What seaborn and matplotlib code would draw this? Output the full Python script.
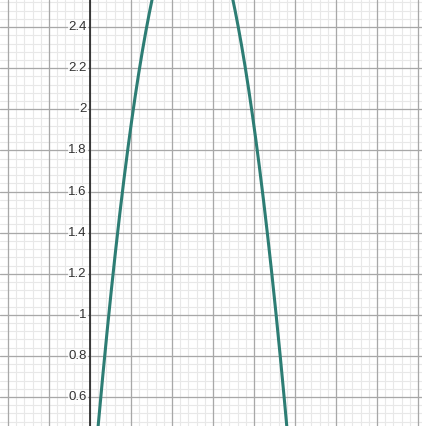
import numpy as np
import matplotlib.pyplot as plt
import seaborn as sns

# curve y = 12x - 12x^2 (coefficients)
coeffs = [-12.0, 12.0, 0.0]
y_ticks = [0.6, 0.8, 1.0, 1.2, 1.4, 1.6, 1.8, 2.0, 2.2, 2.4]
y_labels = ["0.6", "0.8", "1", "1.2", "1.4", "1.6", "1.8", "2", "2.2", "2.4"]

xmin, xmax = -0.439, 1.620
ymin, ymax = 0.459, 2.532

xs = np.linspace(xmin, xmax, 600)
ys = np.polyval(coeffs, xs)

sns.set_style("white")
plt.rcParams['font.family'] = ['Liberation Sans', 'DejaVu Sans']
fig = plt.figure(figsize=(4.22, 4.26), dpi=100)
ax = fig.add_axes([0, 0, 1, 1])

# grid: minor every 0.04, major every 0.2
for v in np.arange(-0.4, 1.7, 0.04):
    ax.axvline(v, color="#e8e8e8", lw=0.8, zorder=0)
for v in np.arange(0.44, 2.6, 0.04):
    ax.axhline(v, color="#e8e8e8", lw=0.8, zorder=0)
for v in np.arange(-0.4, 1.7, 0.2):
    ax.axvline(v, color="#a8a8a8", lw=0.9, zorder=1)
for v in y_ticks + [2.6]:
    ax.axhline(v, color="#a8a8a8", lw=0.9, zorder=1)
ax.axvline(0, color="#222222", lw=1.2, zorder=2)

sns.lineplot(x=xs, y=ys, ax=ax, color="#2d7d74", lw=2.2, zorder=3, sort=False)

for v, lab in zip(y_ticks, y_labels):
    ax.text(-0.015, v, lab, ha="right", va="center", fontsize=9.5, color="#333333",
            bbox=dict(facecolor="white", edgecolor="none", pad=0.5, alpha=0.8), zorder=2.5)

ax.set_xlim(xmin, xmax)
ax.set_ylim(ymin, ymax)
ax.set_xticks([])
ax.set_yticks([])
for s in ax.spines.values():
    s.set_visible(False)

fig.savefig("out.png", dpi=100)
